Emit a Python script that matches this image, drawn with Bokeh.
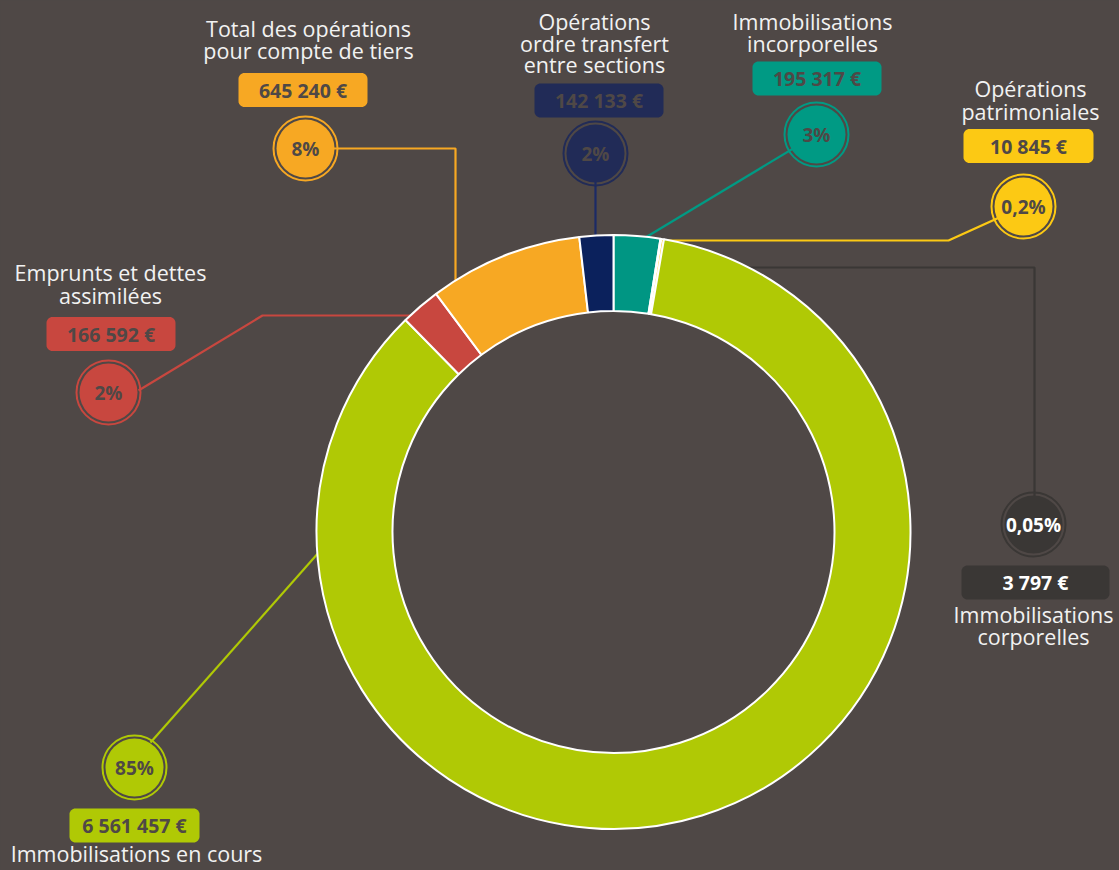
import math
from bokeh.plotting import figure
from bokeh.models import Range1d, ColumnDataSource
from bokeh.core.properties import value
from bokeh.embed import file_html
from bokeh.resources import INLINE

# ---------------- data ----------------
categories = [
    "Immobilisations incorporelles",
    "Immobilisations corporelles",
    "Opérations patrimoniales",
    "Immobilisations en cours",
    "Emprunts et dettes assimilées",
    "Total des opérations pour compte de tiers",
    "Opérations ordre transfert entre sections",
]
values = [195317, 3797, 10845, 6561457, 166592, 645240, 142133]
percent_labels = ["3%", "0,05%", "0,2%", "85%", "2%", "8%", "2%"]
title_lines = [
    ["Immobilisations", "incorporelles"],
    ["Immobilisations", "corporelles"],
    ["Opérations", "patrimoniales"],
    ["Immobilisations en cours"],
    ["Emprunts et dettes", "assimilées"],
    ["Total des opérations", "pour compte de tiers"],
    ["Opérations", "ordre transfert", "entre sections"],
]
slice_colors = ["#009683", "#3a3735", "#fcc914", "#b0c905", "#c8473f", "#f7a823", "#0b215c"]
label_colors = ["#009a84", "#3a3735", "#fcc914", "#b0c905", "#c8473f", "#f7a823", "#212b57"]
label_text_colors = ["#4f4846", "#ffffff", "#4f4846", "#4f4846", "#4f4846", "#4f4846", "#4f4846"]

BG = "#4f4846"
WHITE = "#f2f2f2"
FONT = value("Open Sans")

# ---------------- layout (screen pixel positions) ----------------
layout = [
    dict(circle=(816, 134), box=(816.5, 78, 129), titles=[(812, 21), (812, 43)],
         path=[(816, 134), (640, 240)]),
    dict(circle=(1033, 524), box=(1035, 582, 148), titles=[(1033, 614), (1033, 636)],
         path=[(1034, 524), (1034, 267), (720, 267)]),
    dict(circle=(1023, 206), box=(1028, 145.5, 130), titles=[(1030, 88), (1030, 111)],
         path=[(1023, 206), (948, 240), (645, 240)]),
    dict(circle=(134, 767), box=(134, 825, 130), titles=[(136, 853)],
         path=[(150, 742), (335, 533)]),
    dict(circle=(108, 392), box=(110.5, 333.5, 129), titles=[(110, 272), (110, 295)],
         path=[(138, 390), (262, 315), (430, 315)]),
    dict(circle=(305, 148), box=(302.5, 89.5, 129), titles=[(308, 28), (308, 50)],
         path=[(305, 148), (455, 148), (455, 300)]),
    dict(circle=(595, 153), box=(598.5, 100, 129), titles=[(594, 21), (594, 43), (594, 64)],
         path=[(595, 153), (595, 250)]),
]

CX, CY = 613, 531.5
R_OUT, R_IN = 297, 221
W_PAGE, H_PAGE = 1119, 870


def fy(py):
    return H_PAGE - py


p = figure(width=W_PAGE, height=H_PAGE, x_range=Range1d(0, W_PAGE), y_range=Range1d(0, H_PAGE),
           output_backend="svg", toolbar_location=None, min_border=0,
           x_axis_location=None, y_axis_location=None)
p.grid.visible = False
p.outline_line_color = None
p.background_fill_color = BG
p.border_fill_color = BG

# leader lines (drawn beneath the ring)
for lay, col in zip(layout, label_colors):
    xs = [pt[0] for pt in lay["path"]]
    ys = [fy(pt[1]) for pt in lay["path"]]
    p.line(xs, ys, line_color=col if col != "#212b57" else "#1b2a66", line_width=2.2)

# donut
total = float(sum(values))
starts, ends = [], []
cum = 0.0
for v in values:
    c0 = cum / total * 2 * math.pi
    cum += v
    c1 = cum / total * 2 * math.pi
    starts.append(math.pi / 2 - c1)
    ends.append(math.pi / 2 - c0)
src = ColumnDataSource(dict(start=starts, end=ends, color=slice_colors, cat=categories, val=values))
p.annular_wedge(x=CX, y=fy(CY), inner_radius=R_IN, outer_radius=R_OUT,
                start_angle="start", end_angle="end", direction="anticlock",
                fill_color="color", line_color="white", line_width=2, source=src)


def rounded_rect(cx, cy, w, h, r, n=8):
    xs, ys = [], []
    corners = [
        (cx + w / 2 - r, cy + h / 2 - r, 0),
        (cx - w / 2 + r, cy + h / 2 - r, 90),
        (cx - w / 2 + r, cy - h / 2 + r, 180),
        (cx + w / 2 - r, cy - h / 2 + r, 270),
    ]
    for (ox, oy, a0) in corners:
        for k in range(n + 1):
            a = math.radians(a0 + 90 * k / n)
            xs.append(ox + r * math.cos(a))
            ys.append(oy + r * math.sin(a))
    return xs, ys


for i, lay in enumerate(layout):
    col = label_colors[i]
    tcol = label_text_colors[i]
    # circle marker with ring
    cx, cy = lay["circle"]
    p.circle(x=cx, y=fy(cy), radius=32, fill_color=None, line_color=col, line_width=2)
    p.circle(x=cx, y=fy(cy), radius=29, fill_color=col, line_color=None)
    p.text(x=[cx], y=[fy(cy)], text=[percent_labels[i]], text_align="center",
           text_baseline="middle", text_font=FONT, text_font_style="bold",
           text_font_size="19px", text_color=tcol)
    # value box
    bx, by, bw = lay["box"]
    xs, ys = rounded_rect(bx, fy(by), bw, 34, 6)
    p.patch(xs, ys, fill_color=col, line_color=None)
    txt = f"{values[i]:,}".replace(",", " ") + " €"
    p.text(x=[bx], y=[fy(by)], text=[txt], text_align="center", text_baseline="middle",
           text_font=FONT, text_font_style="bold", text_font_size="19.5px", text_color=tcol)
    # title
    for (tx, ty), line in zip(lay["titles"], title_lines[i]):
        p.text(x=[tx], y=[fy(ty)], text=[line], text_align="center", text_baseline="middle",
               text_font=FONT, text_font_size="21.5px", text_color=WHITE)

html = file_html(p, INLINE)
html = html.replace("</head>", "<style>html,body{background:%s;}</style></head>" % BG, 1)
open("out.html", "w").write(html)
